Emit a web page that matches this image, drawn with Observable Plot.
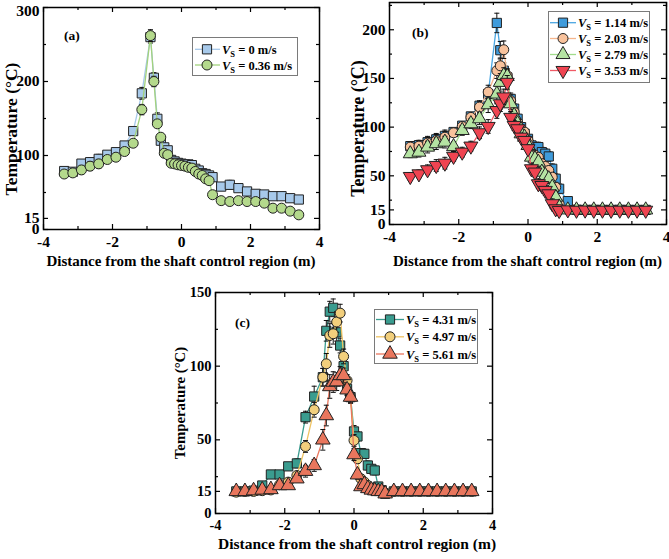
<!DOCTYPE html>
<html><head><meta charset="utf-8">
<script src="https://cdn.jsdelivr.net/npm/d3@7"></script>
<script src="https://cdn.jsdelivr.net/npm/@observablehq/plot@0.6"></script>
<style>
body{margin:0;background:#fff;}
#root{position:relative;width:669px;height:559px;overflow:hidden;background:#fff;}
.pan{position:absolute;}
#ov{position:absolute;left:0;top:0;pointer-events:none;}
</style></head><body><div id="root"></div>
<script>
// ---------- data ----------
const xs = [-3.4,-3.15,-2.9,-2.65,-2.4,-2.15,-1.9,-1.65,-1.4,-1.15,-0.9,-0.8,-0.7,-0.6,-0.5,-0.4,-0.3,-0.2,-0.1,0,0.1,0.2,0.3,0.4,0.5,0.6,0.7,0.8,0.9,1.15,1.4,1.65,1.9,2.15,2.4,2.65,2.9,3.15,3.4];
const xMajor = [-4,-2,0,2,4];
const xMinor = [-3,-1,1,3];

// panel (a)
const aLabels = ["0 m/s","0.36 m/s"];
const aV0    = [79,78,89,91,95.5,101,104.5,113.5,133,184,260,205,149.6,120,111,107,94,92,90,89,88,88,87,82,79.7,76,75,73,70.7,58,60.4,55.9,51.4,48.2,47.3,45,45,42.3,40.5];
const aV0e   = [4,3,5,6,6,4,5,4,5,8,8,7,8,5,5,5,4,4,4,3,3,3,3,3,3,3,3,4,4,5,6,4,3,3,3,3,3,3,3];
const aV036  = [75,76.5,80.5,85.6,88.7,94.6,97.7,105.4,116.6,162,262,200,142.8,124.7,103,101,89.6,88.7,87.4,86.5,85.6,84,83,78.4,75,73,68.5,66,47,39,37.8,39,37.8,37.8,35.6,28.8,28.8,24.8,19.8];
const aV036e = [3,3,6,6,6,4,4,4,5,7,8,7,5,5,5,4,4,3,3,3,3,3,3,3,3,3,3,3,5,4,5,3,3,3,3,3,3,3,3];
const aYMajor = [0,15,100,200,300];
const aYMinor = [50,150,250];

// panel (b)
const bLabels = ["1.14 m/s","2.03 m/s","2.79 m/s","3.53 m/s"];
const bV114  = [80.5,81.5,84.5,87.5,91,95,101.5,111,122,134,207,179,158,151,129,119,108.6,100,93.2,88,81.2,79.5,79.5,74.3,72.7,69.9,57.2,47,36.7,24,15.2,15,15.1,15,15,15.1,15,15,15];
const bV114e = [4,5,6,6,6,4,4,4,5,6,10,9,8,7,6,5,5,4,4,4,5,5,5,5,5,5,5,5,5,3,2,2,2,2,2,2,2,2,2];
const bV203  = [79.5,80.5,83.6,86.3,89.7,94.2,100.7,110,120.6,136,158,163,179.5,153,127,115.4,105,98.3,94.9,86.3,74.3,71,69,62.4,59.6,55.5,48.6,38.3,21.3,15.3,15,15.2,15,15,15,15,15.1,15,15];
const bV203e = [5,5,6,6,6,4,4,4,6,7,8,8,9,7,6,5,5,4,4,4,5,5,5,5,5,5,5,5,4,2,2,2,2,2,2,2,2,2,2];
const bV279  = [72.7,74.3,79.5,83,84.6,80,96.6,103.5,108.6,123,134,146,153,152,124,112,103.5,93.2,89.7,81.2,69.2,67.5,64,53.8,50.4,47,38.3,28,18,15,15,15,15,15,15,15,15,15,15];
const bV279e = [4,5,6,6,6,5,5,5,6,8,10,9,8,7,6,5,5,4,4,4,5,5,5,5,5,5,5,5,4,2,2,2,2,2,2,2,2,2,2];
const bV353  = [49.3,52,56.2,60.6,63,70,74.3,80.5,94.2,100.7,117,124,131,146,110,101.7,98.3,89.7,86.3,77.8,57.2,53.8,41.8,40,35,31.5,21.3,16.1,14.4,15,14.6,14.8,14.6,14.7,14.6,14.7,14.6,14.7,14.6];
const bV353e = [4,4,5,6,6,5,5,5,6,7,8,8,8,7,6,5,5,4,4,4,5,5,5,5,5,5,5,4,3,2,2,2,2,2,2,2,2,2,2];
const bYMajor = [0,15,50,100,150,200];
const bYMinor = [25,75,125,175,225];

// panel (c)
const cLabels = ["4.31 m/s","4.97 m/s","5.61 m/s"];
const cV431  = [15,15,15.5,19,26.5,26.5,32,34,65.4,79.4,92.5,124,137,139.6,123,114,100,84.6,79,55.7,52.3,41,40.5,32.6,30.3,29.2,18.3,15.8,13.4,15,15,15,15,15,15,15,15,15,15];
const cV431e = [1,1,1,2,2,2,2,3,4,7,6,7,7,6,6,5,5,4,4,4,3,3,3,3,3,3,2,2,1,1,1,1,1,1,1,1,1,1,1];
const cV497  = [14.5,15,15,15.5,16,19.5,21.3,25.8,45.5,70.4,92.5,101.6,120.8,122,130,136,106.6,90.3,79,49.6,37.1,23.6,21.3,19,16.8,16.5,15.5,15,14,15,15,15,15,15,15,15,15,15,15];
const cV497e = [1,1,1,1,1,2,2,2,4,5,6,7,8,7,7,6,5,4,4,4,3,2,2,2,2,1,1,1,1,1,1,1,1,1,1,1,1,1,1];
const cV561  = [15,15,15.5,16,16.3,19,19,23.6,28.7,32.6,50,66.5,86.2,89.2,89.5,93.7,93.7,84,79,40,26.3,18.3,19.7,17,16,15.5,15,15,13.4,15,15,15,15,15,15,15,15,15,15];
const cV561e = [1,1,1,1,1,2,2,2,4,4,7,7,8,7,6,6,5,4,4,4,3,2,2,2,1,1,1,1,1,1,1,1,1,1,1,1,1,1,1];
const cYMajor = [0,15,50,100,150];
const cYMinor = [25,75,125];

// ---------- symbols ----------
const sqrt3 = Math.sqrt(3);
const triDown = {draw(ctx, size){ const y = -Math.sqrt(size/(sqrt3*3)); ctx.moveTo(0,-y*2); ctx.lineTo(-sqrt3*y, y); ctx.lineTo(sqrt3*y, y); ctx.closePath(); }};
const hline = {draw(ctx, size){ const w = Math.sqrt(size)*0.75; ctx.moveTo(-w,0); ctx.lineTo(w,0); }};

const panels = [
  {left:0, top:0, width:335, height:280, fx0:43, fx1:319, fy0:7, fy1:229, yDomain:[0,300], yMajor:aYMajor, yMinor:aYMinor, fs:15.5, topDy:4,
   series:[
     {y:aV0, e:aV0e, sym:"square", r:5.2, fill:"#a7c9ea", line:"#a7c9ea"},
     {y:aV036, e:aV036e, sym:"circle", r:5, fill:"#b4d98c", line:"#a3d27d"}]},
  {left:335, top:0, width:334, height:280, fx0:389, fx1:666, fy0:2, fy1:224, yDomain:[0,228], yMajor:bYMajor, yMinor:bYMinor, fs:15.5, topDy:0,
   series:[
     {y:bV114, e:bV114e, sym:"square", r:5.2, fill:"#3f9bdb", line:"#4aa6e2"},
     {y:bV203, e:bV203e, sym:"circle", r:5, fill:"#f8c29c", line:"#f6b68c"},
     {y:bV279, e:bV279e, sym:"triangle", r:5.2, fill:"#b5e4a3", line:"#a2dc8c"},
     {y:bV353, e:bV353e, sym:triDown, r:5.2, fill:"#ef4451", line:"#f05a66"}]},
  {left:170, top:280, width:340, height:279, fx0:215, fx1:492, fy0:292, fy1:513, yDomain:[0,150], yMajor:cYMajor, yMinor:cYMinor, fs:14.5, topDy:0,
   series:[
     {y:cV431, e:cV431e, sym:"square", r:5.2, fill:"#3a9c8f", line:"#3a9c8f"},
     {y:cV497, e:cV497e, sym:"circle", r:5, fill:"#f2cf7c", line:"#efc363"},
     {y:cV561, e:cV561e, sym:"triangle", r:5.4, fill:"#e9765d", line:"#e9765d"}]}
];

const fmt = d => d < 0 ? "-" + (-d) : String(d);
const root = document.getElementById("root");

panels.forEach(P => {
  const mL = P.fx0-P.left, mR = P.left+P.width-P.fx1, mT = P.fy0-P.top, mB = P.top+P.height-P.fy1;
  const iW = P.fx1-P.fx0, iH = P.fy1-P.fy0;
  const marks = [];
  P.series.forEach(s => {
    const data = xs.map((x,i) => ({x, y:s.y[i], e:s.e[i]}));
    marks.push(Plot.line(data, {x:"x", y:"y", stroke:s.line, strokeWidth:1.3}));
    marks.push(Plot.ruleX(data, {x:"x", y1:d=>d.y-d.e, y2:d=>d.y+d.e, stroke:"#111", strokeWidth:1}));
    marks.push(Plot.dot(data, {x:"x", y:d=>d.y+d.e, symbol:hline, r:1.9, stroke:"#111", fill:"none", strokeWidth:1}));
    marks.push(Plot.dot(data, {x:"x", y:d=>d.y-d.e, symbol:hline, r:1.9, stroke:"#111", fill:"none", strokeWidth:1}));
    marks.push(Plot.dot(data, {x:"x", y:"y", symbol:s.sym, r:s.r, fill:s.fill, stroke:"#222", strokeWidth:1}));
  });
  const tk = {stroke:"black", strokeWidth:1.2};
  marks.push(Plot.ruleX(xMajor, {x:d=>d, insetTop:iH-5, ...tk}));
  marks.push(Plot.ruleX(xMajor, {x:d=>d, insetBottom:iH-5, ...tk}));
  marks.push(Plot.ruleX(xMinor, {x:d=>d, insetTop:iH-3, ...tk}));
  marks.push(Plot.ruleX(xMinor, {x:d=>d, insetBottom:iH-3, ...tk}));
  marks.push(Plot.ruleY(P.yMajor, {y:d=>d, insetRight:iW-5, ...tk}));
  marks.push(Plot.ruleY(P.yMajor, {y:d=>d, insetLeft:iW-5, ...tk}));
  marks.push(Plot.ruleY(P.yMinor, {y:d=>d, insetRight:iW-3, ...tk}));
  marks.push(Plot.ruleY(P.yMinor, {y:d=>d, insetLeft:iW-3, ...tk}));
  marks.push(Plot.frame({stroke:"black", strokeWidth:1.5}));
  marks.push(Plot.axisX({ticks:xMajor, tickSize:0, tickPadding:6, tickFormat:fmt, label:null}));
  const top = P.yDomain[1];
  marks.push(Plot.axisY({ticks:P.yMajor.filter(v => v !== top), tickSize:0, tickPadding:4, tickFormat:fmt, label:null}));
  if (P.yMajor.includes(top)) marks.push(Plot.axisY({ticks:[top], tickSize:0, tickPadding:4, tickFormat:fmt, label:null, dy:P.topDy}));
  const svg = Plot.plot({
    width:P.width, height:P.height, marginLeft:mL, marginRight:mR, marginTop:mT, marginBottom:mB,
    x:{domain:[-4,4]}, y:{domain:P.yDomain},
    style:{fontFamily:"'Liberation Serif','Times New Roman',serif", fontWeight:"bold", fontSize:P.fs+"px", color:"black", background:"transparent", overflow:"visible"},
    marks
  });
  const div = document.createElement("div");
  div.className = "pan";
  div.style.left = P.left+"px"; div.style.top = P.top+"px";
  div.appendChild(svg);
  root.appendChild(div);
});

// ---------- overlay: titles, panel labels, legends ----------
const ov = d3.select(root).append("svg").attr("id","ov").attr("width",669).attr("height",559)
  .style("font-family","'Liberation Serif','Times New Roman',serif").style("font-weight","bold");
const xTitle = "Distance from the shaft control region (m)";
const yTitle = "Temperature (\u00B0C)";
[[181,266,15],[527.5,266,15],[357,549,15.5]].forEach(([x,y,fs]) =>
  ov.append("text").attr("x",x).attr("y",y).attr("text-anchor","middle").attr("font-size",fs).text(xTitle));
[[17,129,17.5],[364,128.5,18],[185,403,14.8]].forEach(([x,y,fs]) =>
  ov.append("text").attr("transform",`translate(${x},${y}) rotate(-90)`).attr("text-anchor","middle").attr("font-size",fs).text(yTitle));
[["(a)",64,40],["(b)",412,37],["(c)",235,327]].forEach(([t,x,y]) =>
  ov.append("text").attr("x",x).attr("y",y).attr("font-size",13.5).text(t));

const legends = [
  {box:[192,37,105,38], rows:[49.3,65], lx:[195,220], cx:207, tx:222, labels:aLabels, series:panels[0].series},
  {box:[548,11,101,71], rows:[22.7,38.5,54.5,70.5], lx:[550,576], cx:563, tx:578, labels:bLabels, series:panels[1].series},
  {box:[374,309,103,54], rows:[319.5,336.8,354], lx:[376,404], cx:390, tx:406, labels:cLabels, series:panels[2].series}
];
legends.forEach(L => {
  ov.append("rect").attr("x",L.box[0]+0.5).attr("y",L.box[1]+0.5).attr("width",L.box[2]).attr("height",L.box[3])
    .attr("fill","white").attr("stroke","#7a7a7a").attr("stroke-width",1);
  L.series.forEach((s,i) => {
    const cy = L.rows[i];
    ov.append("line").attr("x1",L.lx[0]).attr("x2",L.lx[1]).attr("y1",cy).attr("y2",cy).attr("stroke",s.line).attr("stroke-width",1.3);
    const symType = typeof s.sym === "string" ? {square:d3.symbolSquare,circle:d3.symbolCircle,triangle:d3.symbolTriangle}[s.sym] : s.sym;
    ov.append("path").attr("d", d3.symbol().type(symType).size(s.r*s.r*Math.PI)())
      .attr("transform",`translate(${L.cx},${cy})`).attr("fill",s.fill).attr("stroke","#222").attr("stroke-width",1);
    const t = ov.append("text").attr("x",L.tx).attr("y",cy+4.5).attr("font-size",12.5);
    t.append("tspan").attr("font-style","italic").text("V");
    t.append("tspan").attr("font-size",8.5).attr("dy",3).text("S");
    t.append("tspan").attr("dy",-3).text(" = " + L.labels[i]);
  });
});
</script>
</body></html>
